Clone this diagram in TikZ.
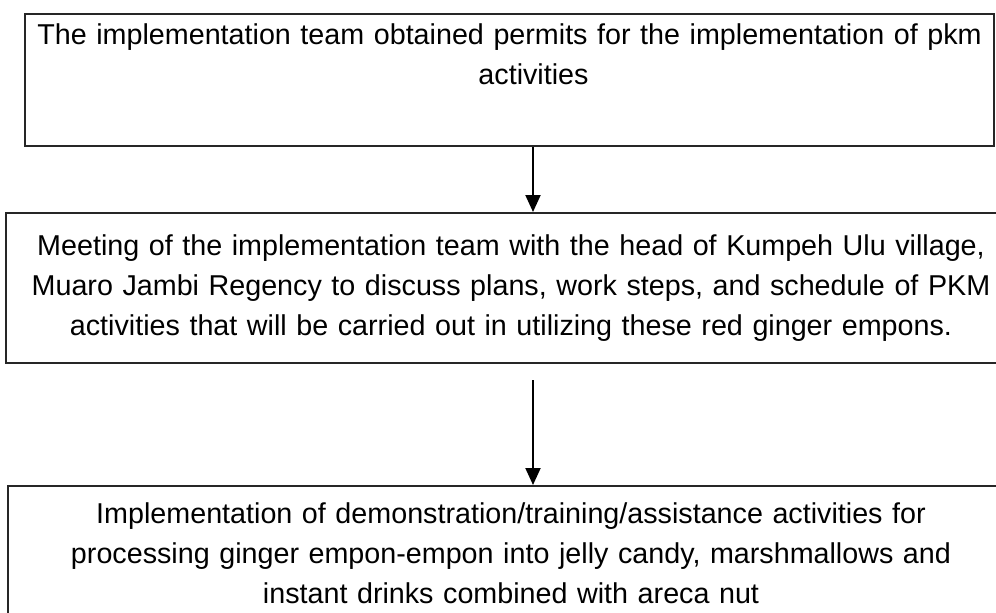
\documentclass[tikz,border=0pt]{standalone}
\usepackage{fontspec}
\setmainfont{Liberation Sans}
\usetikzlibrary{arrows.meta,positioning,calc}
\definecolor{boxline}{HTML}{262626}
\tikzset{
  stepbox/.style={draw=boxline, line width=2pt, rectangle, anchor=north west, align=center, inner xsep=6pt, inner ysep=17pt, font=\fontsize{28.7}{40}\selectfont},
  flowarrow/.style={-{Triangle[width=15pt,length=17pt]}, line width=2pt, black}
}
\begin{document}
\begin{tikzpicture}[x=1pt,y=-1pt]
\clip (0,0) rectangle (996,613);

% boxes
\node[stepbox, inner ysep=10pt, text width=957pt] (permits) at (24,13) {The implementation team obtained permits for the implementation of pkm\\ \hspace*{48pt}activities\\[11pt]\mbox{}};
\node[stepbox, text width=998pt, minimum height=150pt] (meeting) at (5,212) {Meeting of the implementation team with the head of Kumpeh Ulu village,\\ Muaro Jambi Regency to discuss plans, work steps, and schedule of PKM\\ activities that will be carried out in utilizing these red ginger empons.};
\node[stepbox, text width=994pt] (training) at (7,485) {Implementation of demonstration/training/assistance activities for\\ processing ginger empon-empon into jelly candy, marshmallows and\\ instant drinks combined with areca nut};

% arrows
\coordinate (permitsfoot) at (533,0);
\draw[flowarrow] (permitsfoot |- permits.south) -- (permitsfoot |- meeting.north);
\coordinate (gapstart) at (533,380);
\draw[flowarrow] (gapstart) -- (gapstart |- training.north);

\end{tikzpicture}
\end{document}
